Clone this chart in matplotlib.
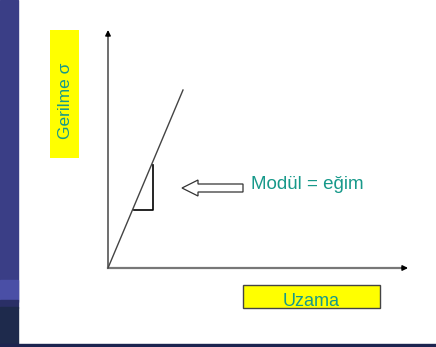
import matplotlib.pyplot as plt
from matplotlib.patches import Rectangle, Polygon

# diagram points (pixel space of the slide)
origin = [108, 268]
y_axis_top = [108, 30]
x_axis_end = [408, 268]
line_x = [108, 183]
line_y = [268, 90]
tri_x = [134, 153, 153]
tri_y = [210, 210, 165]
arrow_pts = [[182, 188], [198, 180], [198, 184], [243, 184],
             [243, 192], [198, 192], [198, 196]]

y_label = "Gerilme σ"
x_label = "Uzama"
note = "Modül = eğim"

teal = "#17998a"
plt.rcParams['font.family'] = ['Liberation Sans', 'DejaVu Sans']

fig = plt.figure(figsize=(4.36, 3.47), dpi=100)
ax = fig.add_axes([0, 0, 1, 1])
ax.set_xlim(0, 436)
ax.set_ylim(347, 0)
ax.axis('off')

# slide background bits
ax.add_patch(Rectangle((0, 0), 18, 300, color="#3a3e86"))
ax.add_patch(Rectangle((0, 280), 18, 22, color="#4a4fa6"))
ax.add_patch(Rectangle((0, 300), 18, 8, color="#2a2f66"))
ax.add_patch(Rectangle((0, 307), 18, 40, color="#1e2a4c"))
ax.add_patch(Rectangle((0, 344), 436, 3, color="#1c2450"))

# axes lines, then black arrow heads
ax.plot([origin[0], y_axis_top[0]], [origin[1], y_axis_top[1] + 3], color="#555555", lw=1.2)
ax.plot([origin[0], x_axis_end[0] - 3], [origin[1], x_axis_end[1]], color="#777777", lw=1.6)
ax.annotate("", xy=y_axis_top, xytext=[y_axis_top[0], y_axis_top[1] + 6],
            arrowprops=dict(arrowstyle="-|>", color="black", lw=1,
                            mutation_scale=8, shrinkA=0, shrinkB=0))
ax.annotate("", xy=x_axis_end, xytext=[x_axis_end[0] - 6, x_axis_end[1]],
            arrowprops=dict(arrowstyle="-|>", color="black", lw=1,
                            mutation_scale=8, shrinkA=0, shrinkB=0))

# stress-strain line and slope triangle
ax.plot(line_x, line_y, color="#444444", lw=1)
ax.plot(tri_x, tri_y, color="black", lw=1.2)

# hollow arrow
ax.add_patch(Polygon(arrow_pts, closed=True, facecolor="white",
                     edgecolor="#333333", lw=0.9))
ax.text(251, 184, note, color=teal, fontsize=13.5, va="center", ha="left")

# label boxes
ax.add_patch(Rectangle((50, 30), 29, 128, facecolor="#ffff00", edgecolor="none"))
ax.text(65, 101, y_label, color=teal, fontsize=12.5, rotation=90,
        ha="center", va="center")
ax.add_patch(Rectangle((243, 285), 137, 23, facecolor="#ffff00",
                       edgecolor="#444444", lw=1))
ax.text(311, 301, x_label, color=teal, fontsize=13, ha="center", va="center")

plt.savefig("out.png", dpi=100)
